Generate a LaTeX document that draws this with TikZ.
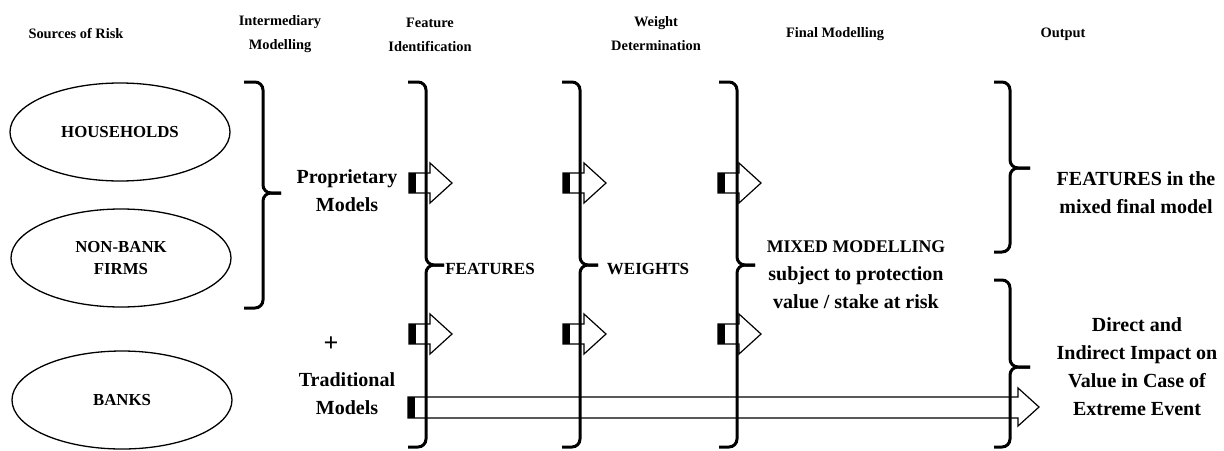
\documentclass[tikz,border=0pt]{standalone}
\usepackage{fontspec}
\setmainfont{Liberation Serif}
\usetikzlibrary{shapes.geometric}

% brace: end x, spine x, tip x, top y, tip y, bottom y
\newcommand\curlybrace[6]{%
	\draw[brc] (#1,#4) -- (#2,#4) -- (#2,#5) -- (#3,#5);
	\draw[brc] (#1,#6) -- (#2,#6) -- (#2,#5) -- (#3,#5);
}

\begin{document}
\begin{tikzpicture}[x=0.5pt,y=-0.5pt,
	hdr/.style={font=\fontsize{7.2}{12}\selectfont\bfseries,align=center},
	lbl/.style={font=\fontsize{10}{14}\selectfont\bfseries,align=center},
	capslbl/.style={font=\fontsize{8.5}{14}\selectfont\bfseries,align=center},
	src/.style={ellipse,draw,line width=0.65pt,minimum width=110pt,minimum height=49pt,inner sep=0pt,
		font=\fontsize{8.4}{11}\selectfont\bfseries,align=center},
	brc/.style={line width=1.5pt,rounded corners=4pt},
	blk/.style={draw,fill=white,line width=0.6pt,line join=miter}]
				\useasboundingbox (0,0) rectangle (1224,450);
				%\draw[color=gray,step=50, help lines,opacity=0.3] (0,0) grid (1224,450); %help grid

				% column heads
				\node[hdr] (hsrc) at (76,34) {Sources of Risk};
				\node[hdr] (hint) at (280,34) {Intermediary\\Modelling};
				\node[hdr] (hfeat) at (430,35) {Feature\\Identification};
				\node[hdr] (hwgt) at (656,34) {Weight\\Determination};
				\node[hdr] (hfin) at (835,34) {Final Modelling};
				\node[hdr] (hout) at (1063,34) {Output};

				% sources
				\node[src] (hh) at (120,132) {HOUSEHOLDS};
				\node[src] (nbf) at (121,258) {NON-BANK\\FIRMS};
				\node[src] (bnk) at (122,400) {BANKS};

				% models and stages
				\node[lbl] (prop) at (347,191) {Proprietary\\Models};
				\node[lbl,font=\fontsize{13}{14}\selectfont\bfseries] (plus) at (331,344) {+};
				\node[lbl] (trad) at (347,394) {Traditional\\Models};
				\node[capslbl] (feat) at (490,269) {FEATURES};
				\node[capslbl] (wgt) at (648,269) {WEIGHTS};
				\node[lbl] (mix) at (856,275) {{\fontsize{8.9}{14}\selectfont MIXED MODELLING}\\subject to protection\\value / stake at risk};
				\node[lbl] (fout) at (1136,193) {FEATURES in the\\mixed final model};
				\node[lbl] (dout) at (1137,367) {Direct and\\Indirect Impact on\\Value in Case of\\Extreme Event};

				% hollow block arrows with black tails
				\foreach \tx in {409,563,718}
					\foreach \ty in {183,334} {
						\draw[blk] (\tx,\ty-10) -- ++(21,0) -- ++(0,-10) -- ++(22,20) -- ++(-22,20) -- ++(0,-10) -- ++(-21,0) -- cycle;
						\fill (\tx,\ty-10) rectangle ++(7,20);
					}
				\draw[blk] (408,397) -- (1018,397) -- (1018,388) -- (1039,407) -- (1018,426) -- (1018,418) -- (408,418) -- cycle;
				\fill (408,397) rectangle (415,418);

				% braces
				\curlybrace{244}{263}{281}{82}{193}{308}
				\curlybrace{408}{426}{444}{82}{265}{447}
				\curlybrace{562}{580}{598}{82}{265}{447}
				\curlybrace{719}{737}{755}{82}{265}{447}
				\curlybrace{994}{1010}{1030}{82}{168}{252}
				\curlybrace{994}{1010}{1030}{280}{367}{447}
\end{tikzpicture}
\end{document}
